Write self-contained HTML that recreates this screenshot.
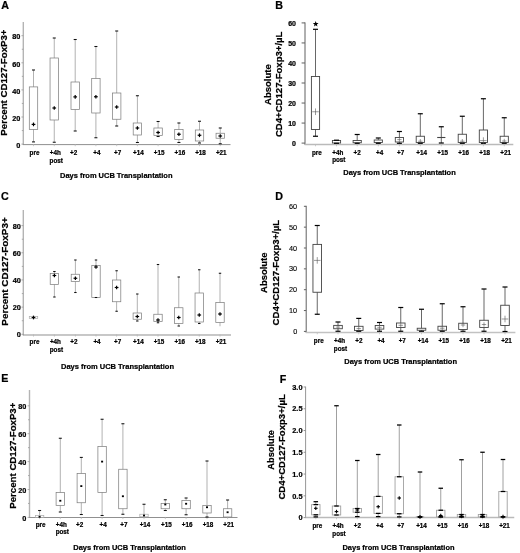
<!DOCTYPE html>
<html><head><meta charset="utf-8"><title>Figure</title>
<style>
html,body{margin:0;padding:0;background:#fff;}
body{width:520px;height:553px;overflow:hidden;font-family:'Liberation Sans', sans-serif;}
svg{display:block;font-family:"Liberation Sans", sans-serif;filter:grayscale(1) blur(0.3px);}
</style></head><body>
<svg width="520" height="553" viewBox="0 0 520 553">
<rect x="0" y="0" width="520" height="553" fill="#fff"/>
<g><!-- panel A -->
<line x1="23.30" y1="22.00" x2="23.30" y2="144.90" stroke="#b4b4b4" stroke-width="1.4"/>
<line x1="22.90" y1="144.60" x2="230.50" y2="144.60" stroke="#8a8a8a" stroke-width="0.95"/>
<line x1="21.40" y1="144.10" x2="23.30" y2="144.10" stroke="#9a9a9a" stroke-width="0.8"/>
<text x="20.40" y="147.80" font-size="7.3" font-weight="bold" text-anchor="end" fill="#000" stroke="#000" stroke-width="0.22">0</text>
<line x1="21.40" y1="117.00" x2="23.30" y2="117.00" stroke="#9a9a9a" stroke-width="0.8"/>
<text x="20.40" y="120.70" font-size="7.3" font-weight="bold" text-anchor="end" fill="#000" stroke="#000" stroke-width="0.22">20</text>
<line x1="21.40" y1="89.90" x2="23.30" y2="89.90" stroke="#9a9a9a" stroke-width="0.8"/>
<text x="20.40" y="93.60" font-size="7.3" font-weight="bold" text-anchor="end" fill="#000" stroke="#000" stroke-width="0.22">40</text>
<line x1="21.40" y1="62.80" x2="23.30" y2="62.80" stroke="#9a9a9a" stroke-width="0.8"/>
<text x="20.40" y="66.50" font-size="7.3" font-weight="bold" text-anchor="end" fill="#000" stroke="#000" stroke-width="0.22">60</text>
<line x1="21.40" y1="35.70" x2="23.30" y2="35.70" stroke="#9a9a9a" stroke-width="0.8"/>
<text x="20.40" y="39.40" font-size="7.3" font-weight="bold" text-anchor="end" fill="#000" stroke="#000" stroke-width="0.22">80</text>
<line x1="21.80" y1="130.55" x2="23.30" y2="130.55" stroke="#9a9a9a" stroke-width="0.8"/>
<line x1="21.80" y1="103.45" x2="23.30" y2="103.45" stroke="#9a9a9a" stroke-width="0.8"/>
<line x1="21.80" y1="76.35" x2="23.30" y2="76.35" stroke="#9a9a9a" stroke-width="0.8"/>
<line x1="21.80" y1="49.25" x2="23.30" y2="49.25" stroke="#9a9a9a" stroke-width="0.8"/>
<line x1="33.50" y1="144.00" x2="33.50" y2="146.20" stroke="#b4b4b4" stroke-width="0.7"/>
<line x1="54.25" y1="144.00" x2="54.25" y2="146.20" stroke="#b4b4b4" stroke-width="0.7"/>
<line x1="75.20" y1="144.00" x2="75.20" y2="146.20" stroke="#b4b4b4" stroke-width="0.7"/>
<line x1="95.90" y1="144.00" x2="95.90" y2="146.20" stroke="#b4b4b4" stroke-width="0.7"/>
<line x1="116.70" y1="144.00" x2="116.70" y2="146.20" stroke="#b4b4b4" stroke-width="0.7"/>
<line x1="137.40" y1="144.00" x2="137.40" y2="146.20" stroke="#b4b4b4" stroke-width="0.7"/>
<line x1="158.10" y1="144.00" x2="158.10" y2="146.20" stroke="#b4b4b4" stroke-width="0.7"/>
<line x1="178.90" y1="144.00" x2="178.90" y2="146.20" stroke="#b4b4b4" stroke-width="0.7"/>
<line x1="199.50" y1="144.00" x2="199.50" y2="146.20" stroke="#b4b4b4" stroke-width="0.7"/>
<line x1="220.25" y1="144.00" x2="220.25" y2="146.20" stroke="#b4b4b4" stroke-width="0.7"/>
<line x1="33.50" y1="70.00" x2="33.50" y2="86.90" stroke="#909090" stroke-width="0.7"/>
<line x1="33.50" y1="129.40" x2="33.50" y2="141.90" stroke="#909090" stroke-width="0.7"/>
<rect x="29.30" y="86.90" width="8.40" height="42.50" fill="none" stroke="#7c7c7c" stroke-width="0.72"/>
<rect x="32.00" y="69.47" width="3.00" height="1.05" fill="#111" stroke="none" stroke-width="0"/>
<rect x="32.00" y="141.38" width="3.00" height="1.05" fill="#111" stroke="none" stroke-width="0"/>
<line x1="31.65" y1="124.40" x2="35.35" y2="124.40" stroke="#000" stroke-width="1.2"/>
<line x1="33.50" y1="122.55" x2="33.50" y2="126.25" stroke="#000" stroke-width="1.2"/>
<line x1="54.25" y1="38.00" x2="54.25" y2="58.00" stroke="#909090" stroke-width="0.7"/>
<line x1="54.25" y1="120.00" x2="54.25" y2="142.25" stroke="#909090" stroke-width="0.7"/>
<rect x="50.05" y="58.00" width="8.40" height="62.00" fill="none" stroke="#7c7c7c" stroke-width="0.72"/>
<rect x="52.75" y="37.48" width="3.00" height="1.05" fill="#111" stroke="none" stroke-width="0"/>
<rect x="52.75" y="141.72" width="3.00" height="1.05" fill="#111" stroke="none" stroke-width="0"/>
<line x1="52.40" y1="108.00" x2="56.10" y2="108.00" stroke="#000" stroke-width="1.2"/>
<line x1="54.25" y1="106.15" x2="54.25" y2="109.85" stroke="#000" stroke-width="1.2"/>
<line x1="75.20" y1="39.50" x2="75.20" y2="82.00" stroke="#909090" stroke-width="0.7"/>
<line x1="75.20" y1="109.40" x2="75.20" y2="131.00" stroke="#909090" stroke-width="0.7"/>
<rect x="71.00" y="82.00" width="8.40" height="27.40" fill="none" stroke="#7c7c7c" stroke-width="0.72"/>
<rect x="73.70" y="38.98" width="3.00" height="1.05" fill="#111" stroke="none" stroke-width="0"/>
<rect x="73.70" y="130.47" width="3.00" height="1.05" fill="#111" stroke="none" stroke-width="0"/>
<line x1="73.35" y1="96.90" x2="77.05" y2="96.90" stroke="#000" stroke-width="1.2"/>
<line x1="75.20" y1="95.05" x2="75.20" y2="98.75" stroke="#000" stroke-width="1.2"/>
<line x1="95.90" y1="46.50" x2="95.90" y2="78.50" stroke="#909090" stroke-width="0.7"/>
<line x1="95.90" y1="113.00" x2="95.90" y2="137.75" stroke="#909090" stroke-width="0.7"/>
<rect x="91.70" y="78.50" width="8.40" height="34.50" fill="none" stroke="#7c7c7c" stroke-width="0.72"/>
<rect x="94.40" y="45.98" width="3.00" height="1.05" fill="#111" stroke="none" stroke-width="0"/>
<rect x="94.40" y="137.22" width="3.00" height="1.05" fill="#111" stroke="none" stroke-width="0"/>
<line x1="94.05" y1="96.75" x2="97.75" y2="96.75" stroke="#000" stroke-width="1.2"/>
<line x1="95.90" y1="94.90" x2="95.90" y2="98.60" stroke="#000" stroke-width="1.2"/>
<line x1="116.70" y1="31.00" x2="116.70" y2="93.00" stroke="#909090" stroke-width="0.7"/>
<line x1="116.70" y1="119.25" x2="116.70" y2="126.00" stroke="#909090" stroke-width="0.7"/>
<rect x="112.50" y="93.00" width="8.40" height="26.25" fill="none" stroke="#7c7c7c" stroke-width="0.72"/>
<rect x="115.20" y="30.48" width="3.00" height="1.05" fill="#111" stroke="none" stroke-width="0"/>
<rect x="115.20" y="125.47" width="3.00" height="1.05" fill="#111" stroke="none" stroke-width="0"/>
<line x1="114.85" y1="107.00" x2="118.55" y2="107.00" stroke="#000" stroke-width="1.2"/>
<line x1="116.70" y1="105.15" x2="116.70" y2="108.85" stroke="#000" stroke-width="1.2"/>
<line x1="137.40" y1="95.75" x2="137.40" y2="123.00" stroke="#909090" stroke-width="0.7"/>
<line x1="137.40" y1="135.00" x2="137.40" y2="142.50" stroke="#909090" stroke-width="0.7"/>
<rect x="133.20" y="123.00" width="8.40" height="12.00" fill="none" stroke="#7c7c7c" stroke-width="0.72"/>
<rect x="135.90" y="95.22" width="3.00" height="1.05" fill="#111" stroke="none" stroke-width="0"/>
<rect x="135.90" y="141.97" width="3.00" height="1.05" fill="#111" stroke="none" stroke-width="0"/>
<line x1="135.55" y1="128.00" x2="139.25" y2="128.00" stroke="#000" stroke-width="1.2"/>
<line x1="137.40" y1="126.15" x2="137.40" y2="129.85" stroke="#000" stroke-width="1.2"/>
<line x1="158.10" y1="121.50" x2="158.10" y2="128.00" stroke="#909090" stroke-width="0.7"/>
<line x1="158.10" y1="135.50" x2="158.10" y2="136.50" stroke="#909090" stroke-width="0.7"/>
<rect x="153.90" y="128.00" width="8.40" height="7.50" fill="none" stroke="#7c7c7c" stroke-width="0.72"/>
<rect x="156.60" y="120.97" width="3.00" height="1.05" fill="#111" stroke="none" stroke-width="0"/>
<rect x="156.60" y="135.97" width="3.00" height="1.05" fill="#111" stroke="none" stroke-width="0"/>
<line x1="156.25" y1="132.50" x2="159.95" y2="132.50" stroke="#000" stroke-width="1.2"/>
<line x1="158.10" y1="130.65" x2="158.10" y2="134.35" stroke="#000" stroke-width="1.2"/>
<line x1="178.90" y1="123.00" x2="178.90" y2="129.50" stroke="#909090" stroke-width="0.7"/>
<line x1="178.90" y1="139.50" x2="178.90" y2="142.50" stroke="#909090" stroke-width="0.7"/>
<rect x="174.70" y="129.50" width="8.40" height="10.00" fill="none" stroke="#7c7c7c" stroke-width="0.72"/>
<rect x="177.40" y="122.47" width="3.00" height="1.05" fill="#111" stroke="none" stroke-width="0"/>
<rect x="177.40" y="141.97" width="3.00" height="1.05" fill="#111" stroke="none" stroke-width="0"/>
<line x1="177.05" y1="134.25" x2="180.75" y2="134.25" stroke="#000" stroke-width="1.2"/>
<line x1="178.90" y1="132.40" x2="178.90" y2="136.10" stroke="#000" stroke-width="1.2"/>
<line x1="199.50" y1="121.25" x2="199.50" y2="130.00" stroke="#909090" stroke-width="0.7"/>
<line x1="199.50" y1="141.00" x2="199.50" y2="143.00" stroke="#909090" stroke-width="0.7"/>
<rect x="195.30" y="130.00" width="8.40" height="11.00" fill="none" stroke="#7c7c7c" stroke-width="0.72"/>
<rect x="198.00" y="120.72" width="3.00" height="1.05" fill="#111" stroke="none" stroke-width="0"/>
<rect x="198.00" y="142.47" width="3.00" height="1.05" fill="#111" stroke="none" stroke-width="0"/>
<line x1="197.65" y1="135.25" x2="201.35" y2="135.25" stroke="#000" stroke-width="1.2"/>
<line x1="199.50" y1="133.40" x2="199.50" y2="137.10" stroke="#000" stroke-width="1.2"/>
<line x1="220.25" y1="128.00" x2="220.25" y2="133.25" stroke="#909090" stroke-width="0.7"/>
<line x1="220.25" y1="138.25" x2="220.25" y2="143.75" stroke="#909090" stroke-width="0.7"/>
<rect x="216.05" y="133.25" width="8.40" height="5.00" fill="none" stroke="#7c7c7c" stroke-width="0.72"/>
<rect x="218.75" y="127.47" width="3.00" height="1.05" fill="#111" stroke="none" stroke-width="0"/>
<rect x="218.75" y="143.22" width="3.00" height="1.05" fill="#111" stroke="none" stroke-width="0"/>
<line x1="218.40" y1="136.00" x2="222.10" y2="136.00" stroke="#000" stroke-width="1.2"/>
<line x1="220.25" y1="134.15" x2="220.25" y2="137.85" stroke="#000" stroke-width="1.2"/>
<text x="34.50" y="154.70" font-size="6.3" font-weight="bold" text-anchor="middle" fill="#000" stroke="#000" stroke-width="0.22">pre</text>
<text x="55.25" y="154.70" font-size="6.3" font-weight="bold" text-anchor="middle" fill="#000" stroke="#000" stroke-width="0.22">+4h</text>
<text x="56.25" y="162.60" font-size="6.3" font-weight="bold" text-anchor="middle" fill="#000" stroke="#000" stroke-width="0.22">post</text>
<text x="73.60" y="154.70" font-size="6.3" font-weight="bold" text-anchor="middle" fill="#000" stroke="#000" stroke-width="0.22">+2</text>
<text x="96.90" y="154.70" font-size="6.3" font-weight="bold" text-anchor="middle" fill="#000" stroke="#000" stroke-width="0.22">+4</text>
<text x="117.70" y="154.70" font-size="6.3" font-weight="bold" text-anchor="middle" fill="#000" stroke="#000" stroke-width="0.22">+7</text>
<text x="138.40" y="154.70" font-size="6.3" font-weight="bold" text-anchor="middle" fill="#000" stroke="#000" stroke-width="0.22">+14</text>
<text x="159.10" y="154.70" font-size="6.3" font-weight="bold" text-anchor="middle" fill="#000" stroke="#000" stroke-width="0.22">+15</text>
<text x="179.90" y="154.70" font-size="6.3" font-weight="bold" text-anchor="middle" fill="#000" stroke="#000" stroke-width="0.22">+16</text>
<text x="200.50" y="154.70" font-size="6.3" font-weight="bold" text-anchor="middle" fill="#000" stroke="#000" stroke-width="0.22">+18</text>
<text x="221.25" y="154.70" font-size="6.3" font-weight="bold" text-anchor="middle" fill="#000" stroke="#000" stroke-width="0.22">+21</text>
<text x="60.00" y="177.70" font-size="7.6" font-weight="bold" text-anchor="start" fill="#000" stroke="#000" stroke-width="0.22" textLength="112.50" lengthAdjust="spacingAndGlyphs">Days from UCB Transplantation</text>
<text x="1.20" y="9.30" font-size="10.7" font-weight="bold" text-anchor="start" fill="#000" stroke="#000" stroke-width="0.22">A</text>
<text x="7.20" y="82.60" font-size="9.75" font-weight="bold" text-anchor="middle" fill="#000" stroke="#000" stroke-width="0.22" textLength="106.20" lengthAdjust="spacingAndGlyphs" transform="rotate(-90 7.20 82.60)">Percent CD127-FoxP3+</text>
</g>
<g><!-- panel B -->
<line x1="305.00" y1="22.40" x2="305.00" y2="144.80" stroke="#606060" stroke-width="1.0"/>
<line x1="304.60" y1="144.50" x2="513.30" y2="144.50" stroke="#bababa" stroke-width="1.4"/>
<line x1="301.60" y1="143.10" x2="305.00" y2="143.10" stroke="#606060" stroke-width="1.0"/>
<text x="296.00" y="146.00" font-size="7.0" font-weight="bold" text-anchor="end" fill="#000" stroke="#000" stroke-width="0.22">0</text>
<line x1="301.60" y1="123.07" x2="305.00" y2="123.07" stroke="#606060" stroke-width="1.0"/>
<text x="296.00" y="125.97" font-size="7.0" font-weight="bold" text-anchor="end" fill="#000" stroke="#000" stroke-width="0.22">10</text>
<line x1="301.60" y1="103.04" x2="305.00" y2="103.04" stroke="#606060" stroke-width="1.0"/>
<text x="296.00" y="105.94" font-size="7.0" font-weight="bold" text-anchor="end" fill="#000" stroke="#000" stroke-width="0.22">20</text>
<line x1="301.60" y1="83.01" x2="305.00" y2="83.01" stroke="#606060" stroke-width="1.0"/>
<text x="296.00" y="85.91" font-size="7.0" font-weight="bold" text-anchor="end" fill="#000" stroke="#000" stroke-width="0.22">30</text>
<line x1="301.60" y1="62.98" x2="305.00" y2="62.98" stroke="#606060" stroke-width="1.0"/>
<text x="296.00" y="65.88" font-size="7.0" font-weight="bold" text-anchor="end" fill="#000" stroke="#000" stroke-width="0.22">40</text>
<line x1="301.60" y1="42.95" x2="305.00" y2="42.95" stroke="#606060" stroke-width="1.0"/>
<text x="296.00" y="45.85" font-size="7.0" font-weight="bold" text-anchor="end" fill="#000" stroke="#000" stroke-width="0.22">50</text>
<line x1="301.60" y1="22.92" x2="305.00" y2="22.92" stroke="#606060" stroke-width="1.0"/>
<text x="296.00" y="25.82" font-size="7.0" font-weight="bold" text-anchor="end" fill="#000" stroke="#000" stroke-width="0.22">60</text>
<line x1="315.50" y1="144.90" x2="315.50" y2="146.30" stroke="#b8b8b8" stroke-width="0.7"/>
<line x1="336.50" y1="144.90" x2="336.50" y2="146.30" stroke="#b8b8b8" stroke-width="0.7"/>
<line x1="357.20" y1="144.90" x2="357.20" y2="146.30" stroke="#b8b8b8" stroke-width="0.7"/>
<line x1="378.30" y1="144.90" x2="378.30" y2="146.30" stroke="#b8b8b8" stroke-width="0.7"/>
<line x1="399.40" y1="144.90" x2="399.40" y2="146.30" stroke="#b8b8b8" stroke-width="0.7"/>
<line x1="420.30" y1="144.90" x2="420.30" y2="146.30" stroke="#b8b8b8" stroke-width="0.7"/>
<line x1="441.30" y1="144.90" x2="441.30" y2="146.30" stroke="#b8b8b8" stroke-width="0.7"/>
<line x1="462.30" y1="144.90" x2="462.30" y2="146.30" stroke="#b8b8b8" stroke-width="0.7"/>
<line x1="483.40" y1="144.90" x2="483.40" y2="146.30" stroke="#b8b8b8" stroke-width="0.7"/>
<line x1="504.25" y1="144.90" x2="504.25" y2="146.30" stroke="#b8b8b8" stroke-width="0.7"/>
<line x1="315.50" y1="29.30" x2="315.50" y2="76.50" stroke="#4c4c4c" stroke-width="0.85"/>
<line x1="315.50" y1="129.50" x2="315.50" y2="136.25" stroke="#4c4c4c" stroke-width="0.85"/>
<rect x="311.40" y="76.50" width="8.20" height="53.00" fill="none" stroke="#444" stroke-width="0.9"/>
<rect x="313.00" y="28.70" width="5.00" height="1.20" fill="#000" stroke="none" stroke-width="0"/>
<rect x="313.00" y="135.65" width="5.00" height="1.20" fill="#000" stroke="none" stroke-width="0"/>
<line x1="312.20" y1="111.75" x2="318.80" y2="111.75" stroke="#555" stroke-width="0.6"/>
<line x1="315.50" y1="108.45" x2="315.50" y2="115.05" stroke="#555" stroke-width="0.6"/>
<line x1="336.50" y1="140.20" x2="336.50" y2="140.50" stroke="#4c4c4c" stroke-width="0.85"/>
<line x1="336.50" y1="143.00" x2="336.50" y2="143.30" stroke="#4c4c4c" stroke-width="0.85"/>
<rect x="332.40" y="140.50" width="8.20" height="2.50" fill="none" stroke="#444" stroke-width="0.9"/>
<rect x="334.00" y="139.60" width="5.00" height="1.20" fill="#000" stroke="none" stroke-width="0"/>
<rect x="334.00" y="142.70" width="5.00" height="1.20" fill="#000" stroke="none" stroke-width="0"/>
<line x1="357.20" y1="134.50" x2="357.20" y2="140.50" stroke="#4c4c4c" stroke-width="0.85"/>
<line x1="357.20" y1="142.75" x2="357.20" y2="143.30" stroke="#4c4c4c" stroke-width="0.85"/>
<rect x="353.10" y="140.50" width="8.20" height="2.25" fill="none" stroke="#444" stroke-width="0.9"/>
<rect x="354.70" y="133.90" width="5.00" height="1.20" fill="#000" stroke="none" stroke-width="0"/>
<rect x="354.70" y="142.70" width="5.00" height="1.20" fill="#000" stroke="none" stroke-width="0"/>
<line x1="378.30" y1="138.00" x2="378.30" y2="140.00" stroke="#4c4c4c" stroke-width="0.85"/>
<line x1="378.30" y1="142.50" x2="378.30" y2="143.30" stroke="#4c4c4c" stroke-width="0.85"/>
<rect x="374.20" y="140.00" width="8.20" height="2.50" fill="none" stroke="#444" stroke-width="0.9"/>
<rect x="375.80" y="137.40" width="5.00" height="1.20" fill="#000" stroke="none" stroke-width="0"/>
<rect x="375.80" y="142.70" width="5.00" height="1.20" fill="#000" stroke="none" stroke-width="0"/>
<line x1="399.40" y1="131.50" x2="399.40" y2="137.50" stroke="#4c4c4c" stroke-width="0.85"/>
<line x1="399.40" y1="142.00" x2="399.40" y2="143.30" stroke="#4c4c4c" stroke-width="0.85"/>
<rect x="395.30" y="137.50" width="8.20" height="4.50" fill="none" stroke="#444" stroke-width="0.9"/>
<rect x="396.90" y="130.90" width="5.00" height="1.20" fill="#000" stroke="none" stroke-width="0"/>
<rect x="396.90" y="142.70" width="5.00" height="1.20" fill="#000" stroke="none" stroke-width="0"/>
<line x1="397.20" y1="139.60" x2="401.60" y2="139.60" stroke="#555" stroke-width="0.6"/>
<line x1="399.40" y1="137.40" x2="399.40" y2="141.80" stroke="#555" stroke-width="0.6"/>
<line x1="420.30" y1="113.75" x2="420.30" y2="136.25" stroke="#4c4c4c" stroke-width="0.85"/>
<line x1="420.30" y1="142.50" x2="420.30" y2="143.30" stroke="#4c4c4c" stroke-width="0.85"/>
<rect x="416.20" y="136.25" width="8.20" height="6.25" fill="none" stroke="#444" stroke-width="0.9"/>
<rect x="417.80" y="113.15" width="5.00" height="1.20" fill="#000" stroke="none" stroke-width="0"/>
<rect x="417.80" y="142.70" width="5.00" height="1.20" fill="#000" stroke="none" stroke-width="0"/>
<line x1="418.10" y1="141.20" x2="422.50" y2="141.20" stroke="#555" stroke-width="0.6"/>
<line x1="420.30" y1="139.00" x2="420.30" y2="143.40" stroke="#555" stroke-width="0.6"/>
<line x1="441.30" y1="126.75" x2="441.30" y2="137.50" stroke="#4c4c4c" stroke-width="0.85"/>
<line x1="441.30" y1="137.50" x2="441.30" y2="143.00" stroke="#4c4c4c" stroke-width="0.85"/>
<line x1="437.20" y1="137.50" x2="445.40" y2="137.50" stroke="#444" stroke-width="1.1"/>
<rect x="438.80" y="126.15" width="5.00" height="1.20" fill="#000" stroke="none" stroke-width="0"/>
<rect x="438.80" y="142.40" width="5.00" height="1.20" fill="#000" stroke="none" stroke-width="0"/>
<line x1="462.30" y1="116.25" x2="462.30" y2="134.25" stroke="#4c4c4c" stroke-width="0.85"/>
<line x1="462.30" y1="142.50" x2="462.30" y2="143.30" stroke="#4c4c4c" stroke-width="0.85"/>
<rect x="458.20" y="134.25" width="8.20" height="8.25" fill="none" stroke="#444" stroke-width="0.9"/>
<rect x="459.80" y="115.65" width="5.00" height="1.20" fill="#000" stroke="none" stroke-width="0"/>
<rect x="459.80" y="142.70" width="5.00" height="1.20" fill="#000" stroke="none" stroke-width="0"/>
<line x1="460.10" y1="141.20" x2="464.50" y2="141.20" stroke="#555" stroke-width="0.6"/>
<line x1="462.30" y1="139.00" x2="462.30" y2="143.40" stroke="#555" stroke-width="0.6"/>
<line x1="483.40" y1="98.75" x2="483.40" y2="130.00" stroke="#4c4c4c" stroke-width="0.85"/>
<line x1="483.40" y1="142.50" x2="483.40" y2="143.30" stroke="#4c4c4c" stroke-width="0.85"/>
<rect x="479.30" y="130.00" width="8.20" height="12.50" fill="none" stroke="#444" stroke-width="0.9"/>
<rect x="480.90" y="98.15" width="5.00" height="1.20" fill="#000" stroke="none" stroke-width="0"/>
<rect x="480.90" y="142.70" width="5.00" height="1.20" fill="#000" stroke="none" stroke-width="0"/>
<line x1="480.10" y1="140.60" x2="486.70" y2="140.60" stroke="#555" stroke-width="0.6"/>
<line x1="483.40" y1="137.30" x2="483.40" y2="143.90" stroke="#555" stroke-width="0.6"/>
<line x1="504.25" y1="117.75" x2="504.25" y2="136.25" stroke="#4c4c4c" stroke-width="0.85"/>
<line x1="504.25" y1="142.50" x2="504.25" y2="143.30" stroke="#4c4c4c" stroke-width="0.85"/>
<rect x="500.15" y="136.25" width="8.20" height="6.25" fill="none" stroke="#444" stroke-width="0.9"/>
<rect x="501.75" y="117.15" width="5.00" height="1.20" fill="#000" stroke="none" stroke-width="0"/>
<rect x="501.75" y="142.70" width="5.00" height="1.20" fill="#000" stroke="none" stroke-width="0"/>
<line x1="502.05" y1="141.00" x2="506.45" y2="141.00" stroke="#555" stroke-width="0.6"/>
<line x1="504.25" y1="138.80" x2="504.25" y2="143.20" stroke="#555" stroke-width="0.6"/>
<text x="316.80" y="154.50" font-size="6.3" font-weight="bold" text-anchor="middle" fill="#000" stroke="#000" stroke-width="0.22">pre</text>
<text x="337.80" y="154.50" font-size="6.3" font-weight="bold" text-anchor="middle" fill="#000" stroke="#000" stroke-width="0.22">+4h</text>
<text x="338.80" y="162.40" font-size="6.3" font-weight="bold" text-anchor="middle" fill="#000" stroke="#000" stroke-width="0.22">post</text>
<text x="357.10" y="154.50" font-size="6.3" font-weight="bold" text-anchor="middle" fill="#000" stroke="#000" stroke-width="0.22">+2</text>
<text x="379.60" y="154.50" font-size="6.3" font-weight="bold" text-anchor="middle" fill="#000" stroke="#000" stroke-width="0.22">+4</text>
<text x="400.70" y="154.50" font-size="6.3" font-weight="bold" text-anchor="middle" fill="#000" stroke="#000" stroke-width="0.22">+7</text>
<text x="421.60" y="154.50" font-size="6.3" font-weight="bold" text-anchor="middle" fill="#000" stroke="#000" stroke-width="0.22">+14</text>
<text x="442.60" y="154.50" font-size="6.3" font-weight="bold" text-anchor="middle" fill="#000" stroke="#000" stroke-width="0.22">+15</text>
<text x="463.60" y="154.50" font-size="6.3" font-weight="bold" text-anchor="middle" fill="#000" stroke="#000" stroke-width="0.22">+16</text>
<text x="484.70" y="154.50" font-size="6.3" font-weight="bold" text-anchor="middle" fill="#000" stroke="#000" stroke-width="0.22">+18</text>
<text x="505.55" y="154.50" font-size="6.3" font-weight="bold" text-anchor="middle" fill="#000" stroke="#000" stroke-width="0.22">+21</text>
<text x="343.25" y="174.70" font-size="7.6" font-weight="bold" text-anchor="start" fill="#000" stroke="#000" stroke-width="0.22" textLength="112.50" lengthAdjust="spacingAndGlyphs">Days from UCB Transplantation</text>
<text x="275.30" y="9.30" font-size="10.7" font-weight="bold" text-anchor="start" fill="#000" stroke="#000" stroke-width="0.22">B</text>
<text x="270.90" y="84.60" font-size="9.8" font-weight="bold" text-anchor="middle" fill="#000" stroke="#000" stroke-width="0.22" textLength="40.80" lengthAdjust="spacingAndGlyphs" transform="rotate(-90 270.90 84.60)">Absolute</text>
<text x="282.50" y="84.30" font-size="9.8" font-weight="bold" text-anchor="middle" fill="#000" stroke="#000" stroke-width="0.22" textLength="105.50" lengthAdjust="spacingAndGlyphs" transform="rotate(-90 282.50 84.30)">CD4+CD127-Foxp3+/µL</text>
</g>
<g><!-- panel C -->
<line x1="23.30" y1="210.00" x2="23.30" y2="335.30" stroke="#b4b4b4" stroke-width="1.4"/>
<line x1="22.90" y1="335.00" x2="231.00" y2="335.00" stroke="#8a8a8a" stroke-width="0.95"/>
<line x1="21.40" y1="334.30" x2="23.30" y2="334.30" stroke="#9a9a9a" stroke-width="0.8"/>
<text x="20.80" y="337.30" font-size="7.3" font-weight="bold" text-anchor="end" fill="#000" stroke="#000" stroke-width="0.22">0</text>
<line x1="21.40" y1="307.13" x2="23.30" y2="307.13" stroke="#9a9a9a" stroke-width="0.8"/>
<text x="20.80" y="310.13" font-size="7.3" font-weight="bold" text-anchor="end" fill="#000" stroke="#000" stroke-width="0.22">20</text>
<line x1="21.40" y1="279.96" x2="23.30" y2="279.96" stroke="#9a9a9a" stroke-width="0.8"/>
<text x="20.80" y="282.96" font-size="7.3" font-weight="bold" text-anchor="end" fill="#000" stroke="#000" stroke-width="0.22">40</text>
<line x1="21.40" y1="252.79" x2="23.30" y2="252.79" stroke="#9a9a9a" stroke-width="0.8"/>
<text x="20.80" y="255.79" font-size="7.3" font-weight="bold" text-anchor="end" fill="#000" stroke="#000" stroke-width="0.22">60</text>
<line x1="21.40" y1="225.62" x2="23.30" y2="225.62" stroke="#9a9a9a" stroke-width="0.8"/>
<text x="20.80" y="228.62" font-size="7.3" font-weight="bold" text-anchor="end" fill="#000" stroke="#000" stroke-width="0.22">80</text>
<line x1="21.80" y1="320.72" x2="23.30" y2="320.72" stroke="#9a9a9a" stroke-width="0.8"/>
<line x1="21.80" y1="293.56" x2="23.30" y2="293.56" stroke="#9a9a9a" stroke-width="0.8"/>
<line x1="21.80" y1="266.40" x2="23.30" y2="266.40" stroke="#9a9a9a" stroke-width="0.8"/>
<line x1="21.80" y1="239.24" x2="23.30" y2="239.24" stroke="#9a9a9a" stroke-width="0.8"/>
<line x1="33.50" y1="334.40" x2="33.50" y2="336.60" stroke="#b4b4b4" stroke-width="0.7"/>
<line x1="54.40" y1="334.40" x2="54.40" y2="336.60" stroke="#b4b4b4" stroke-width="0.7"/>
<line x1="75.40" y1="334.40" x2="75.40" y2="336.60" stroke="#b4b4b4" stroke-width="0.7"/>
<line x1="96.00" y1="334.40" x2="96.00" y2="336.60" stroke="#b4b4b4" stroke-width="0.7"/>
<line x1="116.60" y1="334.40" x2="116.60" y2="336.60" stroke="#b4b4b4" stroke-width="0.7"/>
<line x1="137.30" y1="334.40" x2="137.30" y2="336.60" stroke="#b4b4b4" stroke-width="0.7"/>
<line x1="158.00" y1="334.40" x2="158.00" y2="336.60" stroke="#b4b4b4" stroke-width="0.7"/>
<line x1="178.75" y1="334.40" x2="178.75" y2="336.60" stroke="#b4b4b4" stroke-width="0.7"/>
<line x1="199.25" y1="334.40" x2="199.25" y2="336.60" stroke="#b4b4b4" stroke-width="0.7"/>
<line x1="220.00" y1="334.40" x2="220.00" y2="336.60" stroke="#b4b4b4" stroke-width="0.7"/>
<rect x="29.30" y="316.60" width="8.40" height="2.00" fill="none" stroke="#adadad" stroke-width="0.72"/>
<line x1="31.65" y1="317.50" x2="35.35" y2="317.50" stroke="#000" stroke-width="1.2"/>
<line x1="33.50" y1="315.65" x2="33.50" y2="319.35" stroke="#000" stroke-width="1.2"/>
<line x1="54.40" y1="271.50" x2="54.40" y2="273.50" stroke="#909090" stroke-width="0.7"/>
<line x1="54.40" y1="284.50" x2="54.40" y2="297.00" stroke="#909090" stroke-width="0.7"/>
<rect x="50.20" y="273.50" width="8.40" height="11.00" fill="none" stroke="#7c7c7c" stroke-width="0.72"/>
<rect x="53.20" y="270.98" width="2.40" height="1.05" fill="#111" stroke="none" stroke-width="0"/>
<rect x="53.20" y="296.48" width="2.40" height="1.05" fill="#111" stroke="none" stroke-width="0"/>
<line x1="52.55" y1="275.50" x2="56.25" y2="275.50" stroke="#000" stroke-width="1.2"/>
<line x1="54.40" y1="273.65" x2="54.40" y2="277.35" stroke="#000" stroke-width="1.2"/>
<line x1="75.40" y1="260.00" x2="75.40" y2="274.25" stroke="#909090" stroke-width="0.7"/>
<line x1="75.40" y1="281.50" x2="75.40" y2="292.50" stroke="#909090" stroke-width="0.7"/>
<rect x="71.20" y="274.25" width="8.40" height="7.25" fill="none" stroke="#7c7c7c" stroke-width="0.72"/>
<rect x="74.20" y="259.48" width="2.40" height="1.05" fill="#111" stroke="none" stroke-width="0"/>
<rect x="74.20" y="291.98" width="2.40" height="1.05" fill="#111" stroke="none" stroke-width="0"/>
<line x1="73.55" y1="278.25" x2="77.25" y2="278.25" stroke="#000" stroke-width="1.2"/>
<line x1="75.40" y1="276.40" x2="75.40" y2="280.10" stroke="#000" stroke-width="1.2"/>
<line x1="96.00" y1="260.00" x2="96.00" y2="265.50" stroke="#909090" stroke-width="0.7"/>
<rect x="91.80" y="265.50" width="8.40" height="32.00" fill="none" stroke="#7c7c7c" stroke-width="0.72"/>
<rect x="94.80" y="259.48" width="2.40" height="1.05" fill="#111" stroke="none" stroke-width="0"/>
<rect x="94.80" y="296.98" width="2.40" height="1.05" fill="#111" stroke="none" stroke-width="0"/>
<line x1="94.15" y1="267.00" x2="97.85" y2="267.00" stroke="#000" stroke-width="1.2"/>
<line x1="96.00" y1="265.15" x2="96.00" y2="268.85" stroke="#000" stroke-width="1.2"/>
<line x1="116.60" y1="270.75" x2="116.60" y2="280.00" stroke="#909090" stroke-width="0.7"/>
<line x1="116.60" y1="301.75" x2="116.60" y2="311.25" stroke="#909090" stroke-width="0.7"/>
<rect x="112.40" y="280.00" width="8.40" height="21.75" fill="none" stroke="#7c7c7c" stroke-width="0.72"/>
<rect x="115.40" y="270.23" width="2.40" height="1.05" fill="#111" stroke="none" stroke-width="0"/>
<rect x="115.40" y="310.73" width="2.40" height="1.05" fill="#111" stroke="none" stroke-width="0"/>
<line x1="114.75" y1="287.50" x2="118.45" y2="287.50" stroke="#000" stroke-width="1.2"/>
<line x1="116.60" y1="285.65" x2="116.60" y2="289.35" stroke="#000" stroke-width="1.2"/>
<line x1="137.30" y1="294.00" x2="137.30" y2="313.00" stroke="#909090" stroke-width="0.7"/>
<line x1="137.30" y1="319.25" x2="137.30" y2="321.00" stroke="#909090" stroke-width="0.7"/>
<rect x="133.10" y="313.00" width="8.40" height="6.25" fill="none" stroke="#7c7c7c" stroke-width="0.72"/>
<rect x="136.10" y="293.48" width="2.40" height="1.05" fill="#111" stroke="none" stroke-width="0"/>
<rect x="136.10" y="320.48" width="2.40" height="1.05" fill="#111" stroke="none" stroke-width="0"/>
<line x1="135.45" y1="316.50" x2="139.15" y2="316.50" stroke="#000" stroke-width="1.2"/>
<line x1="137.30" y1="314.65" x2="137.30" y2="318.35" stroke="#000" stroke-width="1.2"/>
<line x1="158.00" y1="264.50" x2="158.00" y2="314.25" stroke="#909090" stroke-width="0.7"/>
<line x1="158.00" y1="321.50" x2="158.00" y2="322.75" stroke="#909090" stroke-width="0.7"/>
<rect x="153.80" y="314.25" width="8.40" height="7.25" fill="none" stroke="#7c7c7c" stroke-width="0.72"/>
<rect x="156.80" y="263.98" width="2.40" height="1.05" fill="#111" stroke="none" stroke-width="0"/>
<rect x="156.80" y="322.23" width="2.40" height="1.05" fill="#111" stroke="none" stroke-width="0"/>
<line x1="156.15" y1="320.00" x2="159.85" y2="320.00" stroke="#000" stroke-width="1.2"/>
<line x1="158.00" y1="318.15" x2="158.00" y2="321.85" stroke="#000" stroke-width="1.2"/>
<line x1="178.75" y1="277.00" x2="178.75" y2="307.75" stroke="#909090" stroke-width="0.7"/>
<line x1="178.75" y1="323.50" x2="178.75" y2="326.00" stroke="#909090" stroke-width="0.7"/>
<rect x="174.55" y="307.75" width="8.40" height="15.75" fill="none" stroke="#7c7c7c" stroke-width="0.72"/>
<rect x="177.55" y="276.48" width="2.40" height="1.05" fill="#111" stroke="none" stroke-width="0"/>
<rect x="177.55" y="325.48" width="2.40" height="1.05" fill="#111" stroke="none" stroke-width="0"/>
<line x1="176.90" y1="317.50" x2="180.60" y2="317.50" stroke="#000" stroke-width="1.2"/>
<line x1="178.75" y1="315.65" x2="178.75" y2="319.35" stroke="#000" stroke-width="1.2"/>
<line x1="199.25" y1="269.75" x2="199.25" y2="293.00" stroke="#909090" stroke-width="0.7"/>
<line x1="199.25" y1="322.00" x2="199.25" y2="323.50" stroke="#909090" stroke-width="0.7"/>
<rect x="195.05" y="293.00" width="8.40" height="29.00" fill="none" stroke="#7c7c7c" stroke-width="0.72"/>
<rect x="198.05" y="269.23" width="2.40" height="1.05" fill="#111" stroke="none" stroke-width="0"/>
<rect x="198.05" y="322.98" width="2.40" height="1.05" fill="#111" stroke="none" stroke-width="0"/>
<line x1="197.40" y1="315.00" x2="201.10" y2="315.00" stroke="#000" stroke-width="1.2"/>
<line x1="199.25" y1="313.15" x2="199.25" y2="316.85" stroke="#000" stroke-width="1.2"/>
<line x1="220.00" y1="273.25" x2="220.00" y2="302.50" stroke="#909090" stroke-width="0.7"/>
<line x1="220.00" y1="322.50" x2="220.00" y2="326.25" stroke="#909090" stroke-width="0.7"/>
<rect x="215.80" y="302.50" width="8.40" height="20.00" fill="none" stroke="#7c7c7c" stroke-width="0.72"/>
<rect x="218.80" y="272.73" width="2.40" height="1.05" fill="#111" stroke="none" stroke-width="0"/>
<line x1="218.15" y1="314.00" x2="221.85" y2="314.00" stroke="#000" stroke-width="1.2"/>
<line x1="220.00" y1="312.15" x2="220.00" y2="315.85" stroke="#000" stroke-width="1.2"/>
<text x="34.50" y="344.40" font-size="6.3" font-weight="bold" text-anchor="middle" fill="#000" stroke="#000" stroke-width="0.22">pre</text>
<text x="55.40" y="344.40" font-size="6.3" font-weight="bold" text-anchor="middle" fill="#000" stroke="#000" stroke-width="0.22">+4h</text>
<text x="56.40" y="352.30" font-size="6.3" font-weight="bold" text-anchor="middle" fill="#000" stroke="#000" stroke-width="0.22">post</text>
<text x="73.80" y="344.40" font-size="6.3" font-weight="bold" text-anchor="middle" fill="#000" stroke="#000" stroke-width="0.22">+2</text>
<text x="97.00" y="344.40" font-size="6.3" font-weight="bold" text-anchor="middle" fill="#000" stroke="#000" stroke-width="0.22">+4</text>
<text x="117.60" y="344.40" font-size="6.3" font-weight="bold" text-anchor="middle" fill="#000" stroke="#000" stroke-width="0.22">+7</text>
<text x="138.30" y="344.40" font-size="6.3" font-weight="bold" text-anchor="middle" fill="#000" stroke="#000" stroke-width="0.22">+14</text>
<text x="159.00" y="344.40" font-size="6.3" font-weight="bold" text-anchor="middle" fill="#000" stroke="#000" stroke-width="0.22">+15</text>
<text x="179.75" y="344.40" font-size="6.3" font-weight="bold" text-anchor="middle" fill="#000" stroke="#000" stroke-width="0.22">+16</text>
<text x="200.25" y="344.40" font-size="6.3" font-weight="bold" text-anchor="middle" fill="#000" stroke="#000" stroke-width="0.22">+18</text>
<text x="221.00" y="344.40" font-size="6.3" font-weight="bold" text-anchor="middle" fill="#000" stroke="#000" stroke-width="0.22">+21</text>
<text x="61.00" y="368.70" font-size="7.6" font-weight="bold" text-anchor="start" fill="#000" stroke="#000" stroke-width="0.22" textLength="113.00" lengthAdjust="spacingAndGlyphs">Days from UCB Transplantation</text>
<text x="1.00" y="200.00" font-size="10.7" font-weight="bold" text-anchor="start" fill="#000" stroke="#000" stroke-width="0.22">C</text>
<text x="7.80" y="271.50" font-size="9.85" font-weight="bold" text-anchor="middle" fill="#000" stroke="#000" stroke-width="0.22" textLength="108.40" lengthAdjust="spacingAndGlyphs" transform="rotate(-90 7.80 271.50)">Percent CD127-FoxP3+</text>
</g>
<g><!-- panel D -->
<line x1="306.20" y1="205.80" x2="306.20" y2="332.80" stroke="#606060" stroke-width="1.0"/>
<line x1="305.80" y1="332.50" x2="515.40" y2="332.50" stroke="#c2c2c2" stroke-width="1.7"/>
<line x1="303.90" y1="331.40" x2="306.20" y2="331.40" stroke="#606060" stroke-width="1.0"/>
<text x="297.20" y="334.00" font-size="7.3" font-weight="normal" text-anchor="end" fill="#000" stroke="#000" stroke-width="0.12">0</text>
<line x1="303.90" y1="310.55" x2="306.20" y2="310.55" stroke="#606060" stroke-width="1.0"/>
<text x="297.20" y="313.15" font-size="7.3" font-weight="normal" text-anchor="end" fill="#000" stroke="#000" stroke-width="0.12">10</text>
<line x1="303.90" y1="289.70" x2="306.20" y2="289.70" stroke="#606060" stroke-width="1.0"/>
<text x="297.20" y="292.30" font-size="7.3" font-weight="normal" text-anchor="end" fill="#000" stroke="#000" stroke-width="0.12">20</text>
<line x1="303.90" y1="268.85" x2="306.20" y2="268.85" stroke="#606060" stroke-width="1.0"/>
<text x="297.20" y="271.45" font-size="7.3" font-weight="normal" text-anchor="end" fill="#000" stroke="#000" stroke-width="0.12">30</text>
<line x1="303.90" y1="248.00" x2="306.20" y2="248.00" stroke="#606060" stroke-width="1.0"/>
<text x="297.20" y="250.60" font-size="7.3" font-weight="normal" text-anchor="end" fill="#000" stroke="#000" stroke-width="0.12">40</text>
<line x1="303.90" y1="227.15" x2="306.20" y2="227.15" stroke="#606060" stroke-width="1.0"/>
<text x="297.20" y="229.75" font-size="7.3" font-weight="normal" text-anchor="end" fill="#000" stroke="#000" stroke-width="0.12">50</text>
<line x1="303.90" y1="206.30" x2="306.20" y2="206.30" stroke="#606060" stroke-width="1.0"/>
<text x="297.20" y="208.90" font-size="7.3" font-weight="normal" text-anchor="end" fill="#000" stroke="#000" stroke-width="0.12">60</text>
<line x1="317.25" y1="332.90" x2="317.25" y2="334.30" stroke="#b8b8b8" stroke-width="0.7"/>
<line x1="338.00" y1="332.90" x2="338.00" y2="334.30" stroke="#b8b8b8" stroke-width="0.7"/>
<line x1="358.75" y1="332.90" x2="358.75" y2="334.30" stroke="#b8b8b8" stroke-width="0.7"/>
<line x1="379.50" y1="332.90" x2="379.50" y2="334.30" stroke="#b8b8b8" stroke-width="0.7"/>
<line x1="400.75" y1="332.90" x2="400.75" y2="334.30" stroke="#b8b8b8" stroke-width="0.7"/>
<line x1="421.50" y1="332.90" x2="421.50" y2="334.30" stroke="#b8b8b8" stroke-width="0.7"/>
<line x1="442.25" y1="332.90" x2="442.25" y2="334.30" stroke="#b8b8b8" stroke-width="0.7"/>
<line x1="463.00" y1="332.90" x2="463.00" y2="334.30" stroke="#b8b8b8" stroke-width="0.7"/>
<line x1="484.00" y1="332.90" x2="484.00" y2="334.30" stroke="#b8b8b8" stroke-width="0.7"/>
<line x1="505.00" y1="332.90" x2="505.00" y2="334.30" stroke="#b8b8b8" stroke-width="0.7"/>
<line x1="317.25" y1="225.50" x2="317.25" y2="244.40" stroke="#4c4c4c" stroke-width="0.85"/>
<line x1="317.25" y1="292.25" x2="317.25" y2="314.25" stroke="#4c4c4c" stroke-width="0.85"/>
<rect x="312.95" y="244.40" width="8.60" height="47.85" fill="none" stroke="#444" stroke-width="0.9"/>
<rect x="314.75" y="224.90" width="5.00" height="1.20" fill="#000" stroke="none" stroke-width="0"/>
<rect x="314.75" y="313.65" width="5.00" height="1.20" fill="#000" stroke="none" stroke-width="0"/>
<line x1="313.95" y1="260.40" x2="320.55" y2="260.40" stroke="#555" stroke-width="0.6"/>
<line x1="317.25" y1="257.10" x2="317.25" y2="263.70" stroke="#555" stroke-width="0.6"/>
<line x1="338.00" y1="322.00" x2="338.00" y2="325.40" stroke="#4c4c4c" stroke-width="0.85"/>
<line x1="338.00" y1="328.75" x2="338.00" y2="331.25" stroke="#4c4c4c" stroke-width="0.85"/>
<rect x="333.70" y="325.40" width="8.60" height="3.35" fill="none" stroke="#444" stroke-width="0.9"/>
<rect x="335.50" y="321.40" width="5.00" height="1.20" fill="#000" stroke="none" stroke-width="0"/>
<rect x="335.50" y="330.65" width="5.00" height="1.20" fill="#000" stroke="none" stroke-width="0"/>
<line x1="335.80" y1="327.10" x2="340.20" y2="327.10" stroke="#555" stroke-width="0.6"/>
<line x1="338.00" y1="324.90" x2="338.00" y2="329.30" stroke="#555" stroke-width="0.6"/>
<line x1="358.75" y1="318.40" x2="358.75" y2="326.30" stroke="#4c4c4c" stroke-width="0.85"/>
<line x1="358.75" y1="330.50" x2="358.75" y2="331.25" stroke="#4c4c4c" stroke-width="0.85"/>
<rect x="354.45" y="326.30" width="8.60" height="4.20" fill="none" stroke="#444" stroke-width="0.9"/>
<rect x="356.25" y="317.80" width="5.00" height="1.20" fill="#000" stroke="none" stroke-width="0"/>
<rect x="356.25" y="330.65" width="5.00" height="1.20" fill="#000" stroke="none" stroke-width="0"/>
<line x1="356.55" y1="328.60" x2="360.95" y2="328.60" stroke="#555" stroke-width="0.6"/>
<line x1="358.75" y1="326.40" x2="358.75" y2="330.80" stroke="#555" stroke-width="0.6"/>
<line x1="379.50" y1="322.50" x2="379.50" y2="325.50" stroke="#4c4c4c" stroke-width="0.85"/>
<line x1="379.50" y1="329.10" x2="379.50" y2="331.25" stroke="#4c4c4c" stroke-width="0.85"/>
<rect x="375.20" y="325.50" width="8.60" height="3.60" fill="none" stroke="#444" stroke-width="0.9"/>
<rect x="377.00" y="321.90" width="5.00" height="1.20" fill="#000" stroke="none" stroke-width="0"/>
<rect x="377.00" y="330.65" width="5.00" height="1.20" fill="#000" stroke="none" stroke-width="0"/>
<line x1="377.30" y1="327.30" x2="381.70" y2="327.30" stroke="#555" stroke-width="0.6"/>
<line x1="379.50" y1="325.10" x2="379.50" y2="329.50" stroke="#555" stroke-width="0.6"/>
<line x1="400.75" y1="307.50" x2="400.75" y2="323.00" stroke="#4c4c4c" stroke-width="0.85"/>
<line x1="400.75" y1="327.50" x2="400.75" y2="331.25" stroke="#4c4c4c" stroke-width="0.85"/>
<rect x="396.45" y="323.00" width="8.60" height="4.50" fill="none" stroke="#444" stroke-width="0.9"/>
<rect x="398.25" y="306.90" width="5.00" height="1.20" fill="#000" stroke="none" stroke-width="0"/>
<rect x="398.25" y="330.65" width="5.00" height="1.20" fill="#000" stroke="none" stroke-width="0"/>
<line x1="398.55" y1="325.30" x2="402.95" y2="325.30" stroke="#555" stroke-width="0.6"/>
<line x1="400.75" y1="323.10" x2="400.75" y2="327.50" stroke="#555" stroke-width="0.6"/>
<line x1="421.50" y1="309.25" x2="421.50" y2="328.25" stroke="#4c4c4c" stroke-width="0.85"/>
<line x1="421.50" y1="330.25" x2="421.50" y2="331.25" stroke="#4c4c4c" stroke-width="0.85"/>
<rect x="417.20" y="328.25" width="8.60" height="2.00" fill="none" stroke="#444" stroke-width="0.9"/>
<rect x="419.00" y="308.65" width="5.00" height="1.20" fill="#000" stroke="none" stroke-width="0"/>
<rect x="419.00" y="330.65" width="5.00" height="1.20" fill="#000" stroke="none" stroke-width="0"/>
<line x1="442.25" y1="303.75" x2="442.25" y2="326.25" stroke="#4c4c4c" stroke-width="0.85"/>
<line x1="442.25" y1="330.25" x2="442.25" y2="331.25" stroke="#4c4c4c" stroke-width="0.85"/>
<rect x="437.95" y="326.25" width="8.60" height="4.00" fill="none" stroke="#444" stroke-width="0.9"/>
<rect x="439.75" y="303.15" width="5.00" height="1.20" fill="#000" stroke="none" stroke-width="0"/>
<rect x="439.75" y="330.65" width="5.00" height="1.20" fill="#000" stroke="none" stroke-width="0"/>
<line x1="440.05" y1="328.20" x2="444.45" y2="328.20" stroke="#555" stroke-width="0.6"/>
<line x1="442.25" y1="326.00" x2="442.25" y2="330.40" stroke="#555" stroke-width="0.6"/>
<line x1="463.00" y1="306.75" x2="463.00" y2="323.25" stroke="#4c4c4c" stroke-width="0.85"/>
<line x1="463.00" y1="329.50" x2="463.00" y2="331.25" stroke="#4c4c4c" stroke-width="0.85"/>
<rect x="458.70" y="323.25" width="8.60" height="6.25" fill="none" stroke="#444" stroke-width="0.9"/>
<rect x="460.50" y="306.15" width="5.00" height="1.20" fill="#000" stroke="none" stroke-width="0"/>
<rect x="460.50" y="330.65" width="5.00" height="1.20" fill="#000" stroke="none" stroke-width="0"/>
<line x1="460.80" y1="325.00" x2="465.20" y2="325.00" stroke="#555" stroke-width="0.6"/>
<line x1="463.00" y1="322.80" x2="463.00" y2="327.20" stroke="#555" stroke-width="0.6"/>
<line x1="484.00" y1="289.00" x2="484.00" y2="320.25" stroke="#4c4c4c" stroke-width="0.85"/>
<line x1="484.00" y1="327.50" x2="484.00" y2="331.25" stroke="#4c4c4c" stroke-width="0.85"/>
<rect x="479.70" y="320.25" width="8.60" height="7.25" fill="none" stroke="#444" stroke-width="0.9"/>
<rect x="481.50" y="288.40" width="5.00" height="1.20" fill="#000" stroke="none" stroke-width="0"/>
<rect x="481.50" y="330.65" width="5.00" height="1.20" fill="#000" stroke="none" stroke-width="0"/>
<line x1="481.80" y1="324.50" x2="486.20" y2="324.50" stroke="#555" stroke-width="0.6"/>
<line x1="484.00" y1="322.30" x2="484.00" y2="326.70" stroke="#555" stroke-width="0.6"/>
<line x1="505.00" y1="287.00" x2="505.00" y2="305.25" stroke="#4c4c4c" stroke-width="0.85"/>
<line x1="505.00" y1="325.50" x2="505.00" y2="331.50" stroke="#4c4c4c" stroke-width="0.85"/>
<rect x="500.70" y="305.25" width="8.60" height="20.25" fill="none" stroke="#444" stroke-width="0.9"/>
<rect x="502.50" y="286.40" width="5.00" height="1.20" fill="#000" stroke="none" stroke-width="0"/>
<rect x="502.50" y="330.90" width="5.00" height="1.20" fill="#000" stroke="none" stroke-width="0"/>
<line x1="501.70" y1="319.00" x2="508.30" y2="319.00" stroke="#555" stroke-width="0.6"/>
<line x1="505.00" y1="315.70" x2="505.00" y2="322.30" stroke="#555" stroke-width="0.6"/>
<text x="318.75" y="342.80" font-size="6.3" font-weight="bold" text-anchor="middle" fill="#000" stroke="#000" stroke-width="0.22">pre</text>
<text x="339.50" y="342.80" font-size="6.3" font-weight="bold" text-anchor="middle" fill="#000" stroke="#000" stroke-width="0.22">+4h</text>
<text x="340.50" y="350.70" font-size="6.3" font-weight="bold" text-anchor="middle" fill="#000" stroke="#000" stroke-width="0.22">post</text>
<text x="358.85" y="342.80" font-size="6.3" font-weight="bold" text-anchor="middle" fill="#000" stroke="#000" stroke-width="0.22">+2</text>
<text x="381.00" y="342.80" font-size="6.3" font-weight="bold" text-anchor="middle" fill="#000" stroke="#000" stroke-width="0.22">+4</text>
<text x="402.25" y="342.80" font-size="6.3" font-weight="bold" text-anchor="middle" fill="#000" stroke="#000" stroke-width="0.22">+7</text>
<text x="423.00" y="342.80" font-size="6.3" font-weight="bold" text-anchor="middle" fill="#000" stroke="#000" stroke-width="0.22">+14</text>
<text x="443.75" y="342.80" font-size="6.3" font-weight="bold" text-anchor="middle" fill="#000" stroke="#000" stroke-width="0.22">+15</text>
<text x="464.50" y="342.80" font-size="6.3" font-weight="bold" text-anchor="middle" fill="#000" stroke="#000" stroke-width="0.22">+16</text>
<text x="485.50" y="342.80" font-size="6.3" font-weight="bold" text-anchor="middle" fill="#000" stroke="#000" stroke-width="0.22">+18</text>
<text x="506.50" y="342.80" font-size="6.3" font-weight="bold" text-anchor="middle" fill="#000" stroke="#000" stroke-width="0.22">+21</text>
<text x="344.25" y="363.95" font-size="7.6" font-weight="bold" text-anchor="start" fill="#000" stroke="#000" stroke-width="0.22" textLength="112.75" lengthAdjust="spacingAndGlyphs">Days from UCB Transplantation</text>
<text x="275.30" y="199.60" font-size="10.7" font-weight="bold" text-anchor="start" fill="#000" stroke="#000" stroke-width="0.22">D</text>
<text x="266.70" y="272.70" font-size="9.8" font-weight="bold" text-anchor="middle" fill="#000" stroke="#000" stroke-width="0.22" textLength="40.40" lengthAdjust="spacingAndGlyphs" transform="rotate(-90 266.70 272.70)">Absolute</text>
<text x="278.90" y="272.60" font-size="9.8" font-weight="bold" text-anchor="middle" fill="#000" stroke="#000" stroke-width="0.22" textLength="105.60" lengthAdjust="spacingAndGlyphs" transform="rotate(-90 278.90 272.60)">CD4+CD127-Foxp3+/µL</text>
</g>
<g><!-- panel E -->
<line x1="29.50" y1="390.00" x2="29.50" y2="517.80" stroke="#b4b4b4" stroke-width="1.4"/>
<line x1="29.10" y1="517.50" x2="237.50" y2="517.50" stroke="#8a8a8a" stroke-width="0.95"/>
<line x1="27.60" y1="517.40" x2="29.50" y2="517.40" stroke="#9a9a9a" stroke-width="0.8"/>
<text x="26.30" y="520.80" font-size="7.3" font-weight="bold" text-anchor="end" fill="#000" stroke="#000" stroke-width="0.22">0</text>
<line x1="27.60" y1="489.50" x2="29.50" y2="489.50" stroke="#9a9a9a" stroke-width="0.8"/>
<text x="26.30" y="492.90" font-size="7.3" font-weight="bold" text-anchor="end" fill="#000" stroke="#000" stroke-width="0.22">20</text>
<line x1="27.60" y1="461.60" x2="29.50" y2="461.60" stroke="#9a9a9a" stroke-width="0.8"/>
<text x="26.30" y="465.00" font-size="7.3" font-weight="bold" text-anchor="end" fill="#000" stroke="#000" stroke-width="0.22">40</text>
<line x1="27.60" y1="433.70" x2="29.50" y2="433.70" stroke="#9a9a9a" stroke-width="0.8"/>
<text x="26.30" y="437.10" font-size="7.3" font-weight="bold" text-anchor="end" fill="#000" stroke="#000" stroke-width="0.22">60</text>
<line x1="27.60" y1="405.80" x2="29.50" y2="405.80" stroke="#9a9a9a" stroke-width="0.8"/>
<text x="26.30" y="409.20" font-size="7.3" font-weight="bold" text-anchor="end" fill="#000" stroke="#000" stroke-width="0.22">80</text>
<line x1="28.00" y1="503.45" x2="29.50" y2="503.45" stroke="#9a9a9a" stroke-width="0.8"/>
<line x1="28.00" y1="475.55" x2="29.50" y2="475.55" stroke="#9a9a9a" stroke-width="0.8"/>
<line x1="28.00" y1="447.65" x2="29.50" y2="447.65" stroke="#9a9a9a" stroke-width="0.8"/>
<line x1="28.00" y1="419.75" x2="29.50" y2="419.75" stroke="#9a9a9a" stroke-width="0.8"/>
<line x1="39.60" y1="516.90" x2="39.60" y2="519.10" stroke="#b4b4b4" stroke-width="0.7"/>
<line x1="60.30" y1="516.90" x2="60.30" y2="519.10" stroke="#b4b4b4" stroke-width="0.7"/>
<line x1="81.30" y1="516.90" x2="81.30" y2="519.10" stroke="#b4b4b4" stroke-width="0.7"/>
<line x1="102.10" y1="516.90" x2="102.10" y2="519.10" stroke="#b4b4b4" stroke-width="0.7"/>
<line x1="122.90" y1="516.90" x2="122.90" y2="519.10" stroke="#b4b4b4" stroke-width="0.7"/>
<line x1="144.00" y1="516.90" x2="144.00" y2="519.10" stroke="#b4b4b4" stroke-width="0.7"/>
<line x1="165.30" y1="516.90" x2="165.30" y2="519.10" stroke="#b4b4b4" stroke-width="0.7"/>
<line x1="186.10" y1="516.90" x2="186.10" y2="519.10" stroke="#b4b4b4" stroke-width="0.7"/>
<line x1="207.00" y1="516.90" x2="207.00" y2="519.10" stroke="#b4b4b4" stroke-width="0.7"/>
<line x1="227.60" y1="516.90" x2="227.60" y2="519.10" stroke="#b4b4b4" stroke-width="0.7"/>
<line x1="39.60" y1="510.50" x2="39.60" y2="515.50" stroke="#909090" stroke-width="0.7"/>
<rect x="35.40" y="515.50" width="8.40" height="2.00" fill="none" stroke="#adadad" stroke-width="0.72"/>
<rect x="38.10" y="509.98" width="3.00" height="1.05" fill="#111" stroke="none" stroke-width="0"/>
<rect x="38.60" y="515.85" width="2.00" height="1.80" fill="#000" stroke="none" stroke-width="0"/>
<line x1="60.30" y1="438.25" x2="60.30" y2="492.50" stroke="#909090" stroke-width="0.7"/>
<line x1="60.30" y1="505.50" x2="60.30" y2="512.00" stroke="#909090" stroke-width="0.7"/>
<rect x="56.10" y="492.50" width="8.40" height="13.00" fill="none" stroke="#7c7c7c" stroke-width="0.72"/>
<rect x="58.80" y="437.73" width="3.00" height="1.05" fill="#111" stroke="none" stroke-width="0"/>
<rect x="58.80" y="511.48" width="3.00" height="1.05" fill="#111" stroke="none" stroke-width="0"/>
<rect x="59.30" y="499.85" width="2.00" height="1.80" fill="#000" stroke="none" stroke-width="0"/>
<line x1="81.30" y1="457.40" x2="81.30" y2="473.40" stroke="#909090" stroke-width="0.7"/>
<line x1="81.30" y1="502.75" x2="81.30" y2="514.50" stroke="#909090" stroke-width="0.7"/>
<rect x="77.10" y="473.40" width="8.40" height="29.35" fill="none" stroke="#7c7c7c" stroke-width="0.72"/>
<rect x="79.80" y="456.88" width="3.00" height="1.05" fill="#111" stroke="none" stroke-width="0"/>
<rect x="79.80" y="513.98" width="3.00" height="1.05" fill="#111" stroke="none" stroke-width="0"/>
<rect x="80.30" y="485.20" width="2.00" height="1.80" fill="#000" stroke="none" stroke-width="0"/>
<line x1="102.10" y1="419.25" x2="102.10" y2="446.40" stroke="#909090" stroke-width="0.7"/>
<line x1="102.10" y1="492.40" x2="102.10" y2="515.50" stroke="#909090" stroke-width="0.7"/>
<rect x="97.90" y="446.40" width="8.40" height="46.00" fill="none" stroke="#7c7c7c" stroke-width="0.72"/>
<rect x="100.60" y="418.73" width="3.00" height="1.05" fill="#111" stroke="none" stroke-width="0"/>
<rect x="100.60" y="514.98" width="3.00" height="1.05" fill="#111" stroke="none" stroke-width="0"/>
<rect x="101.10" y="460.70" width="2.00" height="1.80" fill="#000" stroke="none" stroke-width="0"/>
<line x1="122.90" y1="423.75" x2="122.90" y2="469.25" stroke="#909090" stroke-width="0.7"/>
<line x1="122.90" y1="508.75" x2="122.90" y2="514.25" stroke="#909090" stroke-width="0.7"/>
<rect x="118.70" y="469.25" width="8.40" height="39.50" fill="none" stroke="#7c7c7c" stroke-width="0.72"/>
<rect x="121.40" y="423.23" width="3.00" height="1.05" fill="#111" stroke="none" stroke-width="0"/>
<rect x="121.40" y="513.73" width="3.00" height="1.05" fill="#111" stroke="none" stroke-width="0"/>
<rect x="121.90" y="495.35" width="2.00" height="1.80" fill="#000" stroke="none" stroke-width="0"/>
<line x1="144.00" y1="504.25" x2="144.00" y2="514.25" stroke="#909090" stroke-width="0.7"/>
<rect x="139.80" y="514.25" width="8.40" height="2.50" fill="none" stroke="#adadad" stroke-width="0.72"/>
<rect x="142.50" y="503.73" width="3.00" height="1.05" fill="#111" stroke="none" stroke-width="0"/>
<rect x="143.00" y="514.60" width="2.00" height="1.80" fill="#000" stroke="none" stroke-width="0"/>
<line x1="165.30" y1="499.75" x2="165.30" y2="503.50" stroke="#909090" stroke-width="0.7"/>
<line x1="165.30" y1="508.75" x2="165.30" y2="510.50" stroke="#909090" stroke-width="0.7"/>
<rect x="161.10" y="503.50" width="8.40" height="5.25" fill="none" stroke="#7c7c7c" stroke-width="0.72"/>
<rect x="163.80" y="499.23" width="3.00" height="1.05" fill="#111" stroke="none" stroke-width="0"/>
<rect x="163.80" y="509.98" width="3.00" height="1.05" fill="#111" stroke="none" stroke-width="0"/>
<rect x="164.30" y="503.60" width="2.00" height="1.80" fill="#000" stroke="none" stroke-width="0"/>
<line x1="186.10" y1="498.00" x2="186.10" y2="500.50" stroke="#909090" stroke-width="0.7"/>
<line x1="186.10" y1="508.75" x2="186.10" y2="514.75" stroke="#909090" stroke-width="0.7"/>
<rect x="181.90" y="500.50" width="8.40" height="8.25" fill="none" stroke="#7c7c7c" stroke-width="0.72"/>
<rect x="184.60" y="497.48" width="3.00" height="1.05" fill="#111" stroke="none" stroke-width="0"/>
<rect x="184.60" y="514.23" width="3.00" height="1.05" fill="#111" stroke="none" stroke-width="0"/>
<rect x="185.10" y="502.85" width="2.00" height="1.80" fill="#000" stroke="none" stroke-width="0"/>
<line x1="207.00" y1="461.00" x2="207.00" y2="505.50" stroke="#909090" stroke-width="0.7"/>
<line x1="207.00" y1="513.00" x2="207.00" y2="517.00" stroke="#909090" stroke-width="0.7"/>
<rect x="202.80" y="505.50" width="8.40" height="7.50" fill="none" stroke="#7c7c7c" stroke-width="0.72"/>
<rect x="205.50" y="460.48" width="3.00" height="1.05" fill="#111" stroke="none" stroke-width="0"/>
<rect x="205.50" y="516.48" width="3.00" height="1.05" fill="#111" stroke="none" stroke-width="0"/>
<rect x="206.00" y="506.35" width="2.00" height="1.80" fill="#000" stroke="none" stroke-width="0"/>
<line x1="227.60" y1="500.00" x2="227.60" y2="508.75" stroke="#909090" stroke-width="0.7"/>
<rect x="223.40" y="508.75" width="8.40" height="8.25" fill="none" stroke="#7c7c7c" stroke-width="0.72"/>
<rect x="226.10" y="499.48" width="3.00" height="1.05" fill="#111" stroke="none" stroke-width="0"/>
<rect x="226.60" y="511.35" width="2.00" height="1.80" fill="#000" stroke="none" stroke-width="0"/>
<text x="40.60" y="526.50" font-size="6.3" font-weight="bold" text-anchor="middle" fill="#000" stroke="#000" stroke-width="0.22">pre</text>
<text x="61.30" y="526.50" font-size="6.3" font-weight="bold" text-anchor="middle" fill="#000" stroke="#000" stroke-width="0.22">+4h</text>
<text x="62.30" y="534.40" font-size="6.3" font-weight="bold" text-anchor="middle" fill="#000" stroke="#000" stroke-width="0.22">post</text>
<text x="79.70" y="526.50" font-size="6.3" font-weight="bold" text-anchor="middle" fill="#000" stroke="#000" stroke-width="0.22">+2</text>
<text x="103.10" y="526.50" font-size="6.3" font-weight="bold" text-anchor="middle" fill="#000" stroke="#000" stroke-width="0.22">+4</text>
<text x="123.90" y="526.50" font-size="6.3" font-weight="bold" text-anchor="middle" fill="#000" stroke="#000" stroke-width="0.22">+7</text>
<text x="145.00" y="526.50" font-size="6.3" font-weight="bold" text-anchor="middle" fill="#000" stroke="#000" stroke-width="0.22">+14</text>
<text x="166.30" y="526.50" font-size="6.3" font-weight="bold" text-anchor="middle" fill="#000" stroke="#000" stroke-width="0.22">+15</text>
<text x="187.10" y="526.50" font-size="6.3" font-weight="bold" text-anchor="middle" fill="#000" stroke="#000" stroke-width="0.22">+16</text>
<text x="208.00" y="526.50" font-size="6.3" font-weight="bold" text-anchor="middle" fill="#000" stroke="#000" stroke-width="0.22">+18</text>
<text x="228.60" y="526.50" font-size="6.3" font-weight="bold" text-anchor="middle" fill="#000" stroke="#000" stroke-width="0.22">+21</text>
<text x="73.30" y="550.20" font-size="7.6" font-weight="bold" text-anchor="start" fill="#000" stroke="#000" stroke-width="0.22" textLength="112.60" lengthAdjust="spacingAndGlyphs">Days from UCB Transplantation</text>
<text x="1.20" y="381.50" font-size="10.7" font-weight="bold" text-anchor="start" fill="#000" stroke="#000" stroke-width="0.22">E</text>
<text x="16.00" y="455.70" font-size="9.75" font-weight="bold" text-anchor="middle" fill="#000" stroke="#000" stroke-width="0.22" textLength="106.20" lengthAdjust="spacingAndGlyphs" transform="rotate(-90 16.00 455.70)">Percent CD127-FoxP3+</text>
</g>
<g><!-- panel F -->
<line x1="305.60" y1="386.60" x2="305.60" y2="517.80" stroke="#8a8a8a" stroke-width="0.9"/>
<line x1="305.20" y1="517.50" x2="514.25" y2="517.50" stroke="#bababa" stroke-width="1.4"/>
<line x1="303.60" y1="517.60" x2="305.60" y2="517.60" stroke="#8a8a8a" stroke-width="0.9"/>
<text x="302.50" y="520.30" font-size="7.4" font-weight="bold" text-anchor="end" fill="#000" stroke="#000" stroke-width="0.22">0</text>
<line x1="303.60" y1="495.83" x2="305.60" y2="495.83" stroke="#8a8a8a" stroke-width="0.9"/>
<text x="302.50" y="498.53" font-size="7.4" font-weight="bold" text-anchor="end" fill="#000" stroke="#000" stroke-width="0.22">0.5</text>
<line x1="303.60" y1="474.06" x2="305.60" y2="474.06" stroke="#8a8a8a" stroke-width="0.9"/>
<text x="302.50" y="476.76" font-size="7.4" font-weight="bold" text-anchor="end" fill="#000" stroke="#000" stroke-width="0.22">1.0</text>
<line x1="303.60" y1="452.29" x2="305.60" y2="452.29" stroke="#8a8a8a" stroke-width="0.9"/>
<text x="302.50" y="454.99" font-size="7.4" font-weight="bold" text-anchor="end" fill="#000" stroke="#000" stroke-width="0.22">1.5</text>
<line x1="303.60" y1="430.52" x2="305.60" y2="430.52" stroke="#8a8a8a" stroke-width="0.9"/>
<text x="302.50" y="433.22" font-size="7.4" font-weight="bold" text-anchor="end" fill="#000" stroke="#000" stroke-width="0.22">2.0</text>
<line x1="303.60" y1="408.75" x2="305.60" y2="408.75" stroke="#8a8a8a" stroke-width="0.9"/>
<text x="302.50" y="411.45" font-size="7.4" font-weight="bold" text-anchor="end" fill="#000" stroke="#000" stroke-width="0.22">2.5</text>
<line x1="303.60" y1="386.98" x2="305.60" y2="386.98" stroke="#8a8a8a" stroke-width="0.9"/>
<text x="302.50" y="389.68" font-size="7.4" font-weight="bold" text-anchor="end" fill="#000" stroke="#000" stroke-width="0.22">3.0</text>
<line x1="315.80" y1="517.90" x2="315.80" y2="519.30" stroke="#b8b8b8" stroke-width="0.7"/>
<line x1="336.50" y1="517.90" x2="336.50" y2="519.30" stroke="#b8b8b8" stroke-width="0.7"/>
<line x1="357.30" y1="517.90" x2="357.30" y2="519.30" stroke="#b8b8b8" stroke-width="0.7"/>
<line x1="378.20" y1="517.90" x2="378.20" y2="519.30" stroke="#b8b8b8" stroke-width="0.7"/>
<line x1="399.25" y1="517.90" x2="399.25" y2="519.30" stroke="#b8b8b8" stroke-width="0.7"/>
<line x1="420.00" y1="517.90" x2="420.00" y2="519.30" stroke="#b8b8b8" stroke-width="0.7"/>
<line x1="440.75" y1="517.90" x2="440.75" y2="519.30" stroke="#b8b8b8" stroke-width="0.7"/>
<line x1="461.50" y1="517.90" x2="461.50" y2="519.30" stroke="#b8b8b8" stroke-width="0.7"/>
<line x1="482.50" y1="517.90" x2="482.50" y2="519.30" stroke="#b8b8b8" stroke-width="0.7"/>
<line x1="503.00" y1="517.90" x2="503.00" y2="519.30" stroke="#b8b8b8" stroke-width="0.7"/>
<line x1="315.80" y1="501.70" x2="315.80" y2="504.60" stroke="#808080" stroke-width="0.75"/>
<line x1="315.80" y1="514.80" x2="315.80" y2="516.90" stroke="#808080" stroke-width="0.75"/>
<rect x="311.60" y="504.60" width="8.40" height="10.20" fill="none" stroke="#a0a0a0" stroke-width="0.9"/>
<rect x="313.55" y="501.07" width="4.50" height="1.25" fill="#000" stroke="none" stroke-width="0"/>
<rect x="313.55" y="516.27" width="4.50" height="1.25" fill="#000" stroke="none" stroke-width="0"/>
<rect x="313.55" y="503.98" width="4.50" height="1.25" fill="#000" stroke="none" stroke-width="0"/>
<rect x="313.55" y="514.17" width="4.50" height="1.25" fill="#000" stroke="none" stroke-width="0"/>
<line x1="314.00" y1="508.30" x2="317.60" y2="508.30" stroke="#000" stroke-width="1.1"/>
<line x1="315.80" y1="506.50" x2="315.80" y2="510.10" stroke="#000" stroke-width="1.1"/>
<line x1="336.50" y1="405.75" x2="336.50" y2="506.00" stroke="#808080" stroke-width="0.75"/>
<rect x="332.30" y="506.00" width="8.40" height="9.00" fill="none" stroke="#a0a0a0" stroke-width="0.9"/>
<rect x="334.25" y="405.12" width="4.50" height="1.25" fill="#000" stroke="none" stroke-width="0"/>
<rect x="334.25" y="505.38" width="4.50" height="1.25" fill="#000" stroke="none" stroke-width="0"/>
<rect x="334.25" y="514.38" width="4.50" height="1.25" fill="#000" stroke="none" stroke-width="0"/>
<line x1="334.70" y1="511.60" x2="338.30" y2="511.60" stroke="#000" stroke-width="1.1"/>
<line x1="336.50" y1="509.80" x2="336.50" y2="513.40" stroke="#000" stroke-width="1.1"/>
<line x1="357.30" y1="460.50" x2="357.30" y2="508.50" stroke="#808080" stroke-width="0.75"/>
<line x1="357.30" y1="512.25" x2="357.30" y2="516.60" stroke="#808080" stroke-width="0.75"/>
<rect x="353.10" y="508.50" width="8.40" height="3.75" fill="none" stroke="#a0a0a0" stroke-width="0.9"/>
<rect x="355.05" y="459.88" width="4.50" height="1.25" fill="#000" stroke="none" stroke-width="0"/>
<rect x="355.05" y="515.98" width="4.50" height="1.25" fill="#000" stroke="none" stroke-width="0"/>
<rect x="355.05" y="507.88" width="4.50" height="1.25" fill="#000" stroke="none" stroke-width="0"/>
<rect x="355.05" y="511.62" width="4.50" height="1.25" fill="#000" stroke="none" stroke-width="0"/>
<line x1="355.50" y1="510.00" x2="359.10" y2="510.00" stroke="#000" stroke-width="1.1"/>
<line x1="357.30" y1="508.20" x2="357.30" y2="511.80" stroke="#000" stroke-width="1.1"/>
<line x1="378.20" y1="454.50" x2="378.20" y2="496.40" stroke="#808080" stroke-width="0.75"/>
<line x1="378.20" y1="513.40" x2="378.20" y2="516.60" stroke="#808080" stroke-width="0.75"/>
<rect x="374.00" y="496.40" width="8.40" height="17.00" fill="none" stroke="#a0a0a0" stroke-width="0.9"/>
<rect x="375.95" y="453.88" width="4.50" height="1.25" fill="#000" stroke="none" stroke-width="0"/>
<rect x="375.95" y="515.98" width="4.50" height="1.25" fill="#000" stroke="none" stroke-width="0"/>
<rect x="375.95" y="495.77" width="4.50" height="1.25" fill="#000" stroke="none" stroke-width="0"/>
<rect x="375.95" y="512.77" width="4.50" height="1.25" fill="#000" stroke="none" stroke-width="0"/>
<line x1="376.40" y1="506.70" x2="380.00" y2="506.70" stroke="#000" stroke-width="1.1"/>
<line x1="378.20" y1="504.90" x2="378.20" y2="508.50" stroke="#000" stroke-width="1.1"/>
<line x1="399.25" y1="425.00" x2="399.25" y2="476.75" stroke="#808080" stroke-width="0.75"/>
<line x1="399.25" y1="513.75" x2="399.25" y2="516.90" stroke="#808080" stroke-width="0.75"/>
<rect x="395.05" y="476.75" width="8.40" height="37.00" fill="none" stroke="#a0a0a0" stroke-width="0.9"/>
<rect x="397.00" y="424.38" width="4.50" height="1.25" fill="#000" stroke="none" stroke-width="0"/>
<rect x="397.00" y="516.27" width="4.50" height="1.25" fill="#000" stroke="none" stroke-width="0"/>
<rect x="397.00" y="476.12" width="4.50" height="1.25" fill="#000" stroke="none" stroke-width="0"/>
<rect x="397.00" y="513.12" width="4.50" height="1.25" fill="#000" stroke="none" stroke-width="0"/>
<line x1="397.45" y1="498.00" x2="401.05" y2="498.00" stroke="#000" stroke-width="1.1"/>
<line x1="399.25" y1="496.20" x2="399.25" y2="499.80" stroke="#000" stroke-width="1.1"/>
<line x1="420.00" y1="472.00" x2="420.00" y2="516.90" stroke="#808080" stroke-width="0.75"/>
<line x1="415.80" y1="516.90" x2="424.20" y2="516.90" stroke="#a0a0a0" stroke-width="1.1"/>
<rect x="417.75" y="471.38" width="4.50" height="1.25" fill="#000" stroke="none" stroke-width="0"/>
<rect x="417.75" y="516.27" width="4.50" height="1.25" fill="#000" stroke="none" stroke-width="0"/>
<rect x="417.75" y="516.27" width="4.50" height="1.25" fill="#000" stroke="none" stroke-width="0"/>
<rect x="417.75" y="516.27" width="4.50" height="1.25" fill="#000" stroke="none" stroke-width="0"/>
<line x1="418.20" y1="516.90" x2="421.80" y2="516.90" stroke="#000" stroke-width="1.1"/>
<line x1="420.00" y1="515.10" x2="420.00" y2="518.70" stroke="#000" stroke-width="1.1"/>
<line x1="440.75" y1="488.25" x2="440.75" y2="510.25" stroke="#808080" stroke-width="0.75"/>
<rect x="436.55" y="510.25" width="8.40" height="6.65" fill="none" stroke="#a0a0a0" stroke-width="0.9"/>
<rect x="438.50" y="487.62" width="4.50" height="1.25" fill="#000" stroke="none" stroke-width="0"/>
<rect x="438.50" y="516.27" width="4.50" height="1.25" fill="#000" stroke="none" stroke-width="0"/>
<rect x="438.50" y="509.62" width="4.50" height="1.25" fill="#000" stroke="none" stroke-width="0"/>
<rect x="438.50" y="516.27" width="4.50" height="1.25" fill="#000" stroke="none" stroke-width="0"/>
<line x1="438.95" y1="515.50" x2="442.55" y2="515.50" stroke="#000" stroke-width="1.1"/>
<line x1="440.75" y1="513.70" x2="440.75" y2="517.30" stroke="#000" stroke-width="1.1"/>
<line x1="461.50" y1="459.75" x2="461.50" y2="514.50" stroke="#808080" stroke-width="0.75"/>
<rect x="457.30" y="514.50" width="8.40" height="2.40" fill="none" stroke="#a0a0a0" stroke-width="0.9"/>
<rect x="459.25" y="459.12" width="4.50" height="1.25" fill="#000" stroke="none" stroke-width="0"/>
<rect x="459.25" y="516.27" width="4.50" height="1.25" fill="#000" stroke="none" stroke-width="0"/>
<rect x="459.25" y="513.88" width="4.50" height="1.25" fill="#000" stroke="none" stroke-width="0"/>
<rect x="459.25" y="516.27" width="4.50" height="1.25" fill="#000" stroke="none" stroke-width="0"/>
<line x1="459.70" y1="516.00" x2="463.30" y2="516.00" stroke="#000" stroke-width="1.1"/>
<line x1="461.50" y1="514.20" x2="461.50" y2="517.80" stroke="#000" stroke-width="1.1"/>
<line x1="482.50" y1="452.25" x2="482.50" y2="514.50" stroke="#808080" stroke-width="0.75"/>
<rect x="478.30" y="514.50" width="8.40" height="2.40" fill="none" stroke="#a0a0a0" stroke-width="0.9"/>
<rect x="480.25" y="451.62" width="4.50" height="1.25" fill="#000" stroke="none" stroke-width="0"/>
<rect x="480.25" y="516.27" width="4.50" height="1.25" fill="#000" stroke="none" stroke-width="0"/>
<rect x="480.25" y="513.88" width="4.50" height="1.25" fill="#000" stroke="none" stroke-width="0"/>
<rect x="480.25" y="516.27" width="4.50" height="1.25" fill="#000" stroke="none" stroke-width="0"/>
<line x1="480.70" y1="516.00" x2="484.30" y2="516.00" stroke="#000" stroke-width="1.1"/>
<line x1="482.50" y1="514.20" x2="482.50" y2="517.80" stroke="#000" stroke-width="1.1"/>
<line x1="503.00" y1="459.50" x2="503.00" y2="491.50" stroke="#808080" stroke-width="0.75"/>
<rect x="498.80" y="491.50" width="8.40" height="25.40" fill="none" stroke="#a0a0a0" stroke-width="0.9"/>
<rect x="500.75" y="458.88" width="4.50" height="1.25" fill="#000" stroke="none" stroke-width="0"/>
<rect x="500.75" y="516.27" width="4.50" height="1.25" fill="#000" stroke="none" stroke-width="0"/>
<rect x="500.75" y="490.88" width="4.50" height="1.25" fill="#000" stroke="none" stroke-width="0"/>
<rect x="500.75" y="516.27" width="4.50" height="1.25" fill="#000" stroke="none" stroke-width="0"/>
<line x1="501.20" y1="516.60" x2="504.80" y2="516.60" stroke="#000" stroke-width="1.1"/>
<line x1="503.00" y1="514.80" x2="503.00" y2="518.40" stroke="#000" stroke-width="1.1"/>
<text x="317.30" y="527.60" font-size="6.3" font-weight="bold" text-anchor="middle" fill="#000" stroke="#000" stroke-width="0.22">pre</text>
<text x="338.00" y="527.60" font-size="6.3" font-weight="bold" text-anchor="middle" fill="#000" stroke="#000" stroke-width="0.22">+4h</text>
<text x="339.00" y="535.50" font-size="6.3" font-weight="bold" text-anchor="middle" fill="#000" stroke="#000" stroke-width="0.22">post</text>
<text x="357.40" y="527.60" font-size="6.3" font-weight="bold" text-anchor="middle" fill="#000" stroke="#000" stroke-width="0.22">+2</text>
<text x="379.70" y="527.60" font-size="6.3" font-weight="bold" text-anchor="middle" fill="#000" stroke="#000" stroke-width="0.22">+4</text>
<text x="400.75" y="527.60" font-size="6.3" font-weight="bold" text-anchor="middle" fill="#000" stroke="#000" stroke-width="0.22">+7</text>
<text x="421.50" y="527.60" font-size="6.3" font-weight="bold" text-anchor="middle" fill="#000" stroke="#000" stroke-width="0.22">+14</text>
<text x="442.25" y="527.60" font-size="6.3" font-weight="bold" text-anchor="middle" fill="#000" stroke="#000" stroke-width="0.22">+15</text>
<text x="463.00" y="527.60" font-size="6.3" font-weight="bold" text-anchor="middle" fill="#000" stroke="#000" stroke-width="0.22">+16</text>
<text x="484.00" y="527.60" font-size="6.3" font-weight="bold" text-anchor="middle" fill="#000" stroke="#000" stroke-width="0.22">+18</text>
<text x="504.50" y="527.60" font-size="6.3" font-weight="bold" text-anchor="middle" fill="#000" stroke="#000" stroke-width="0.22">+21</text>
<text x="342.50" y="550.10" font-size="7.6" font-weight="bold" text-anchor="start" fill="#000" stroke="#000" stroke-width="0.22" textLength="112.00" lengthAdjust="spacingAndGlyphs">Days from UCB Transplantation</text>
<text x="279.80" y="382.70" font-size="10.7" font-weight="bold" text-anchor="start" fill="#000" stroke="#000" stroke-width="0.22">F</text>
<text x="274.40" y="449.90" font-size="9.8" font-weight="bold" text-anchor="middle" fill="#000" stroke="#000" stroke-width="0.22" textLength="39.60" lengthAdjust="spacingAndGlyphs" transform="rotate(-90 274.40 449.90)">Absolute</text>
<text x="285.20" y="446.90" font-size="9.8" font-weight="bold" text-anchor="middle" fill="#000" stroke="#000" stroke-width="0.22" textLength="105.30" lengthAdjust="spacingAndGlyphs" transform="rotate(-90 285.20 446.90)">CD4+CD127-Foxp3+/µL</text>
</g>
<polygon fill="#000" points="315.70,21.00 316.43,22.99 318.55,23.07 316.89,24.39 317.46,26.43 315.70,25.25 313.94,26.43 314.51,24.39 312.85,23.07 314.97,22.99"/>
</svg>
</body></html>
